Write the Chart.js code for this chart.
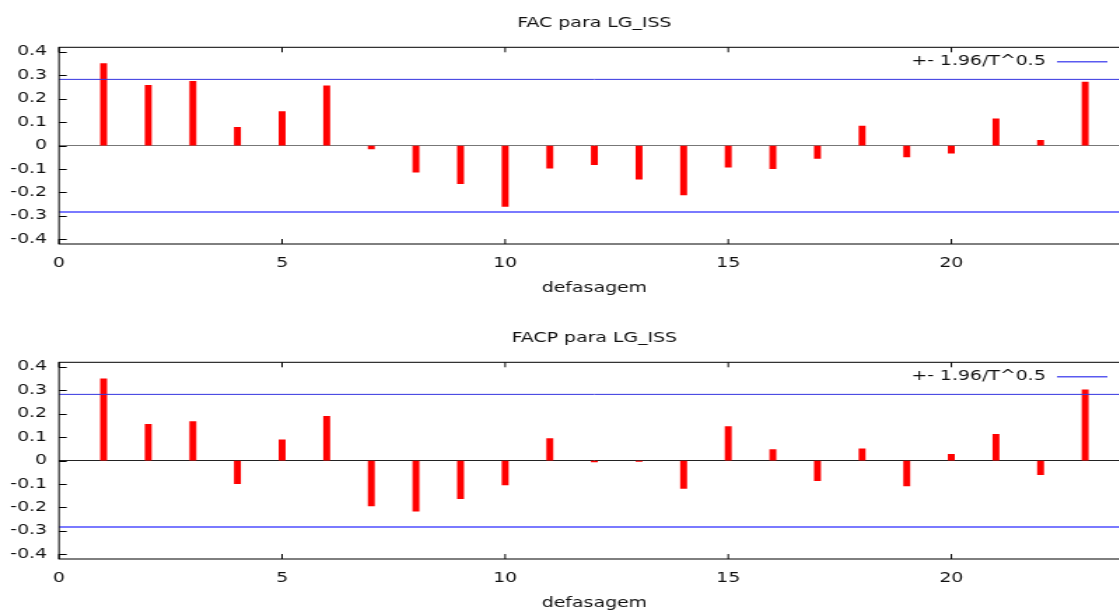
<!DOCTYPE html>
<html>
<head>
<meta charset="utf-8">
<title>FAC / FACP para LG_ISS</title>
<script src="https://cdn.jsdelivr.net/npm/chart.js@4.4.0/dist/chart.umd.min.js"></script>
<style>
  html, body { margin: 0; padding: 0; background: #fff; overflow: hidden; width: 1119px; height: 610px; }
  canvas { display: block; }
</style>
</head>
<body>
<canvas id="facChart" width="810" height="315" style="width:1134px;height:315px"></canvas>
<canvas id="facpChart" width="810" height="315" style="width:1134px;height:315px"></canvas>
<script>
// lags and correlogram values
const lags = [1, 2, 3, 4, 5, 6, 7, 8, 9, 10, 11, 12, 13, 14, 15, 16, 17, 18, 19, 20, 21, 22, 23];
const facValues = [0.351, 0.258, 0.275, 0.078, 0.145, 0.255, -0.014, -0.113, -0.162, -0.260, -0.096, -0.081,
                   -0.143, -0.210, -0.092, -0.098, -0.054, 0.084, -0.048, -0.032, 0.115, 0.023, 0.272];
const facpValues = [0.349, 0.155, 0.167, -0.098, 0.089, 0.189, -0.193, -0.216, -0.162, -0.104, 0.094, -0.005,
                    -0.003, -0.119, 0.146, 0.047, -0.085, 0.051, -0.108, 0.027, 0.112, -0.060, 0.302];
const band = 0.283;          // 1.96 / sqrt(T)
const bandLabel = '+- 1.96/T^0.5';
const xMin = 0, xMax = 24, xStep = 5;
const yMin = -0.42, yMax = 0.42, yStep = 0.1;

// the original picture is stretched sideways, so draw narrow and widen with css
const stretch = 1.4;
const textColor = '#111';
const fontSpec = { family: 'DejaVu Sans', size: 13.5 };
Chart.defaults.font.family = 'DejaVu Sans';
Chart.defaults.color = textColor;

// frame, inward ticks and the key, gnuplot style
const gnuplotFrame = {
  id: 'gnuplotFrame',
  afterDatasetsDraw(chart) {
    const { ctx, chartArea: a, scales: { x, y } } = chart;
    ctx.save();
    ctx.strokeStyle = '#000';
    ctx.lineWidth = 1;
    ctx.beginPath();
    y.ticks.forEach(t => {
      const py = Math.round(y.getPixelForValue(t.value)) + 0.5;
      ctx.moveTo(a.left, py);
      ctx.lineTo(a.left + 5.5, py);
    });
    x.ticks.forEach(t => {
      const px = x.getPixelForValue(t.value);
      ctx.moveTo(px, a.bottom);
      ctx.lineTo(px, a.bottom - 5);
      ctx.moveTo(px, a.top);
      ctx.lineTo(px, a.top + 5);
    });
    ctx.stroke();
    ctx.strokeRect(a.left, a.top, a.right - a.left, a.bottom - a.top);

    const ly = a.top + 14.4;
    ctx.font = '13.5px "DejaVu Sans"';
    ctx.fillStyle = textColor;
    ctx.textAlign = 'right';
    ctx.textBaseline = 'middle';
    ctx.fillText(bandLabel, a.right - 60, ly);
    ctx.strokeStyle = '#5a5af0';
    ctx.lineWidth = 1.5;
    ctx.beginPath();
    ctx.moveTo(a.right - 52, ly);
    ctx.lineTo(a.right - 16, ly);
    ctx.stroke();
    ctx.restore();
  }
};

function makeCorrelogram(id, title, values, zeroColor) {
  const ctx = document.getElementById(id).getContext('2d');
  return new Chart(ctx, {
    type: 'bar',
    data: {
      datasets: [{
        label: title,
        data: lags.map((l, i) => ({ x: l, y: values[i] })),
        backgroundColor: '#ff0000',
        barThickness: 6 / stretch,
        order: 2
      }, {
        type: 'line',
        label: bandLabel,
        data: [{ x: xMin, y: band }, { x: xMax, y: band }],
        borderColor: '#3535e0',
        borderWidth: 1,
        pointRadius: 0,
        order: 1
      }, {
        type: 'line',
        label: bandLabel,
        data: [{ x: xMin, y: -band }, { x: xMax, y: -band }],
        borderColor: '#7a7aff',
        borderWidth: 2,
        pointRadius: 0,
        order: 1
      }]
    },
    options: {
      responsive: false,
      animation: false,
      devicePixelRatio: 1,
      layout: { padding: { top: 0, left: 0, right: 3, bottom: 0 } },
      plugins: {
        legend: { display: false },
        tooltip: { enabled: false },
        title: {
          display: true,
          text: title,
          fullSize: false,
          color: textColor,
          font: { ...fontSpec, weight: 'normal' },
          padding: { top: 15.2, bottom: 15.9 }
        }
      },
      scales: {
        x: {
          type: 'linear',
          min: xMin,
          max: xMax,
          offset: false,
          afterFit(scale) { scale.height = 71; },
          grid: { display: false },
          border: { display: false },
          ticks: { stepSize: xStep, includeBounds: false, padding: 3.2, font: fontSpec, color: textColor, maxRotation: 0 },
          title: { display: true, text: 'defasagem', font: fontSpec, color: textColor, padding: { top: 10.2, bottom: 18.2 } }
        },
        y: {
          min: yMin,
          max: yMax,
          afterFit(scale) { scale.width = 59 / stretch; },
          grid: {
            drawTicks: false,
            color: c => (c.tick && Math.abs(c.tick.value) < 1e-9) ? zeroColor : 'rgba(0,0,0,0)'
          },
          border: { display: false },
          ticks: {
            stepSize: yStep,
            includeBounds: false,
            padding: 8.5,
            font: fontSpec,
            color: textColor,
            callback: v => String(Math.round(v * 10) / 10)
          }
        }
      }
    },
    plugins: [gnuplotFrame]
  });
}

makeCorrelogram('facChart', 'FAC para LG_ISS', facValues, '#777777');
makeCorrelogram('facpChart', 'FACP para LG_ISS', facpValues, '#222222');
</script>
</body>
</html>
